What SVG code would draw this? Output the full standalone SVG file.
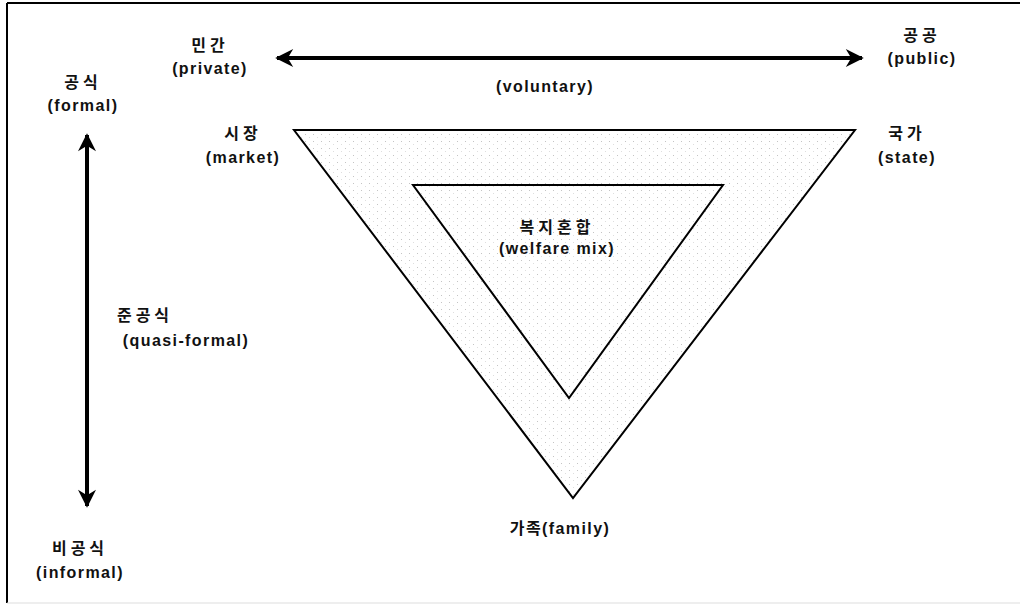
<svg xmlns="http://www.w3.org/2000/svg" width="1020" height="605" viewBox="0 0 1020 605">
<style>
text{font-family:"Liberation Sans","Noto Sans CJK KR",sans-serif;font-size:16px;font-weight:bold;fill:#111;text-anchor:middle;letter-spacing:1.4px}
.ko{letter-spacing:4px}
.tri{stroke:#000;stroke-width:2;stroke-linejoin:miter}
.arrow{stroke:#000;stroke-width:4;fill:none}
</style>
<defs>
<pattern id="dots" width="8" height="7" patternUnits="userSpaceOnUse">
<rect width="8" height="7" fill="#fff"/>
<rect x="1" y="1" width="1" height="1" fill="#c4c4c4"/>
<rect x="5" y="4" width="1" height="1" fill="#dedede"/>
</pattern>
<marker id="ah" viewBox="0 0 10 10" refX="9" refY="5" markerWidth="5" markerHeight="4.5" orient="auto-start-reverse" markerUnits="strokeWidth">
<path d="M0,0 L10,5 L0,10 L3,5 Z" fill="#000"/>
</marker>
</defs>
<rect width="1020" height="605" fill="#fff"/>
<g id="frame">
<line x1="7" y1="3" x2="1020" y2="3" stroke="#000" stroke-width="2"/>
<line x1="7" y1="3" x2="7" y2="603" stroke="#000" stroke-width="2"/>
<line x1="7" y1="603" x2="1020" y2="603" stroke="#ddd" stroke-width="1"/>
</g>
<g id="connectors">
<line class="arrow" x1="277" y1="58" x2="862" y2="58" marker-start="url(#ah)" marker-end="url(#ah)"/>
<line class="arrow" x1="87" y1="135" x2="87" y2="506" marker-start="url(#ah)" marker-end="url(#ah)"/>
</g>
<g id="outer-triangle">
<polygon class="tri" points="294,130 855,130 573,498" fill="url(#dots)"/>
</g>
<g id="inner-triangle">
<polygon class="tri" points="413,185 723,185 569,398" fill="url(#dots)"/>
</g>
<g id="private">
<text x="210" y="51" class="ko">민간</text>
<text x="210" y="74">(private)</text>
</g>
<g id="public">
<text x="922" y="41" class="ko">공공</text>
<text x="922" y="64">(public)</text>
</g>
<g id="voluntary">
<text x="545" y="92">(voluntary)</text>
</g>
<g id="formal">
<text x="83" y="88" class="ko">공식</text>
<text x="83" y="111">(formal)</text>
</g>
<g id="market">
<text x="243" y="139" class="ko">시장</text>
<text x="243" y="163">(market)</text>
</g>
<g id="state">
<text x="907" y="139" class="ko">국가</text>
<text x="907" y="163">(state)</text>
</g>
<g id="welfare-mix">
<text x="557" y="233" class="ko">복지혼합</text>
<text x="557" y="254">(welfare mix)</text>
</g>
<g id="quasi-formal">
<text x="145" y="321" class="ko">준공식</text>
<text x="186" y="346">(quasi-formal)</text>
</g>
<g id="informal">
<text x="80" y="554" class="ko">비공식</text>
<text x="80" y="578">(informal)</text>
</g>
<g id="family">
<text x="560" y="534">가족(family)</text>
</g>
</svg>
